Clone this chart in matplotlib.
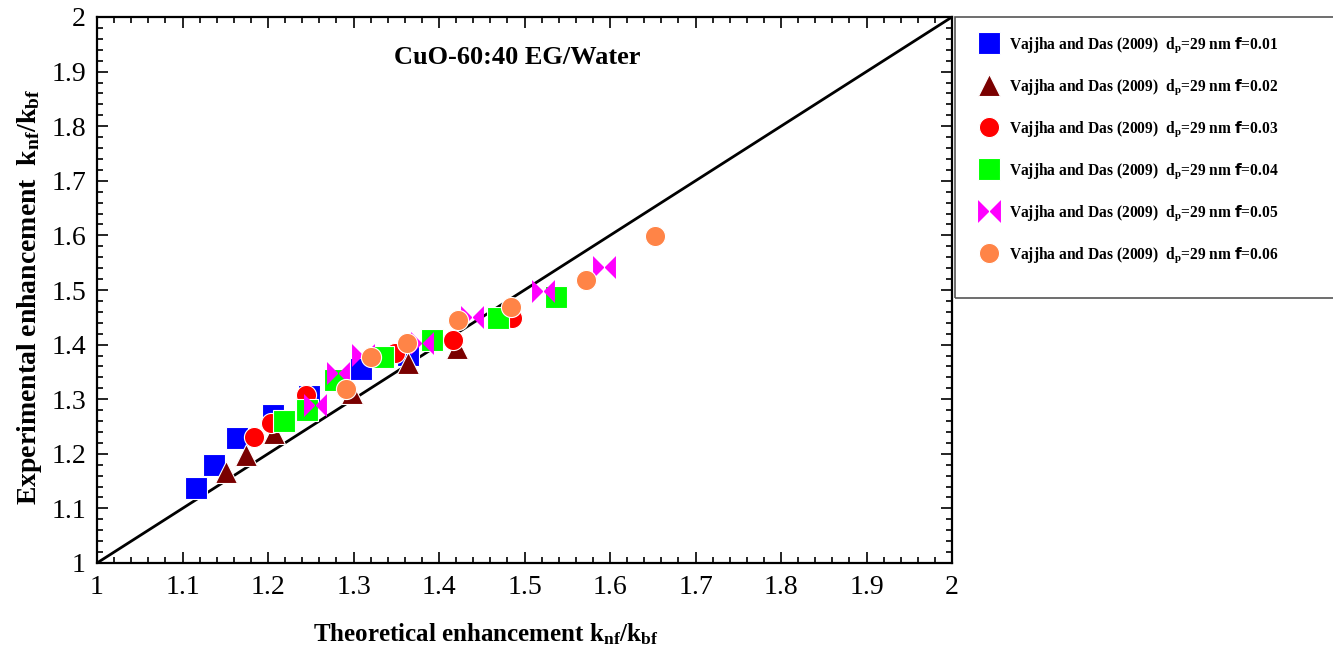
import numpy as np
import matplotlib.pyplot as plt
from matplotlib.path import Path
from matplotlib.patches import Rectangle
from matplotlib.ticker import MultipleLocator

plt.rcParams['font.family'] = ['Liberation Serif', 'DejaVu Serif']
plt.rcParams['mathtext.fontset'] = 'custom'
plt.rcParams['mathtext.rm'] = 'Liberation Serif:bold'
plt.rcParams['mathtext.it'] = 'Liberation Serif:bold'
plt.rcParams['mathtext.bf'] = 'Liberation Serif:bold'
plt.rcParams['mathtext.sf'] = 'DejaVu Sans:bold'

# data (theoretical, experimental)
x1 = [1.116, 1.137, 1.164, 1.206, 1.248, 1.309, 1.364]
y1 = [1.137, 1.179, 1.229, 1.271, 1.306, 1.355, 1.381]
x2 = [1.151, 1.174, 1.207, 1.298, 1.364, 1.421]
y2 = [1.167, 1.198, 1.238, 1.311, 1.366, 1.394]
x3 = [1.184, 1.204, 1.244, 1.349, 1.416, 1.485]
y3 = [1.231, 1.256, 1.308, 1.385, 1.408, 1.449]
x4 = [1.219, 1.246, 1.278, 1.335, 1.392, 1.469, 1.537]
y4 = [1.260, 1.280, 1.335, 1.377, 1.408, 1.449, 1.487]
x5 = [1.255, 1.282, 1.311, 1.380, 1.439, 1.522, 1.593]
y5 = [1.289, 1.348, 1.381, 1.403, 1.451, 1.498, 1.542]
x6 = [1.291, 1.320, 1.363, 1.422, 1.484, 1.572, 1.653]
y6 = [1.319, 1.377, 1.403, 1.445, 1.469, 1.518, 1.599]
fracs = ['0.01', '0.02', '0.03', '0.04', '0.05', '0.06']

bowtie = Path([(-1, -1), (-1, 1), (1, -1), (1, 1), (-1, -1)],
              [Path.MOVETO, Path.LINETO, Path.LINETO, Path.LINETO, Path.CLOSEPOLY])

# marker, colour, size, edge width
styles = [('s', '#0000FF', 15.5, 0.8),
          ('^', '#7A0000', 15.5, 0.8),
          ('o', '#FF0000', 14.5, 0.8),
          ('s', '#00FF00', 15.5, 0.8),
          (bowtie, '#FF00FF', 16.5, 0.0),
          ('o', '#FF8447', 14.5, 0.8)]

fig = plt.figure(figsize=(13.33, 6.55), dpi=100)
ax = fig.add_axes([97/1333, 92/655, 855/1333, 546/655])

ax.plot([1, 2], [1, 2], color='black', lw=2, zorder=1)

xs = [x1, x2, x3, x4, x5, x6]
ys = [y1, y2, y3, y4, y5, y6]
handles = []
for i in range(6):
    m, c, ms, ew = styles[i]
    lab = 'Vajjha and Das (2009)  d$_\\mathregular{p}$=29 nm $\\mathsf{f}$=' + fracs[i]
    h, = ax.plot(xs[i], ys[i], linestyle='none', marker=m, color=c, ms=ms,
                 mec='white' if ew else c, mew=ew, label=lab, zorder=3)
    handles.append(h)

ax.set_xlim(1, 2)
ax.set_ylim(1, 2)
ax.xaxis.set_major_locator(MultipleLocator(0.1))
ax.yaxis.set_major_locator(MultipleLocator(0.1))
ax.xaxis.set_minor_locator(MultipleLocator(0.02))
ax.yaxis.set_minor_locator(MultipleLocator(0.02))
ax.xaxis.set_major_formatter(lambda v, p: f'{v:g}')
ax.yaxis.set_major_formatter(lambda v, p: f'{v:g}')
ax.tick_params(which='both', direction='in', top=True, right=True, width=1.2)
ax.tick_params(which='major', length=8, labelsize=20)
ax.tick_params(axis='x', which='major', pad=9)
ax.tick_params(axis='y', which='major', pad=8)
ax.tick_params(which='minor', length=4)
for s in ax.spines.values():
    s.set_linewidth(1.6)

ax.set_xlabel('Theoretical enhancement k$_\\mathregular{nf}$/k$_\\mathregular{bf}$',
              fontsize=18, fontweight='bold')
ax.xaxis.set_label_coords(0.455, -0.107)
ax.set_ylabel('Experimental enhancement  k$_\\mathregular{nf}$/k$_\\mathregular{bf}$',
              fontsize=20, fontweight='bold')
ax.yaxis.set_label_coords(-0.062, 0.487)
ax.text(0.491, 0.925, 'CuO-60:40 EG/Water', transform=ax.transAxes,
        ha='center', va='center', fontsize=19, fontweight='bold')

fig.patches.append(Rectangle((955/1333, (655-298)/655), 0.3, 281/655,
                             transform=fig.transFigure, fill=False,
                             edgecolor='#555555', lw=1.2))
fig.legend(handles=handles, loc='upper left', bbox_to_anchor=(963/1333, 0.968),
           frameon=False, prop={'weight': 'bold', 'size': 11.2},
           labelspacing=1.45, handletextpad=0.55, handlelength=1.5)

fig.savefig('out.png', dpi=100)
